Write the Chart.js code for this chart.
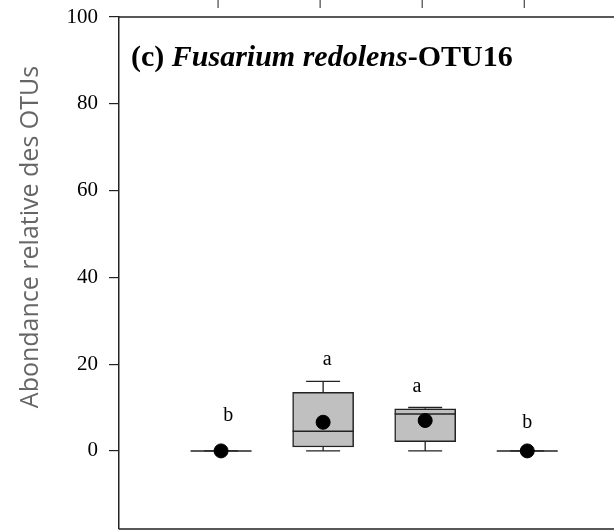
<!DOCTYPE html>
<html lang="fr">
  <head>
    <meta charset="UTF-8" />
    <script src="https://cdn.jsdelivr.net/npm/chart.js"></script>
    <title>Fusarium redolens-OTU16</title>
    <style>
      body { margin: 0; background: #fff; }
      #wrap { width: 614px; height: 530px; }
    </style>
  </head>
  <body>
    <div id="wrap"><canvas id="myChart"></canvas></div>
    <script>
      // data
      const xPos = [1, 2, 3, 4];
      const whiskerLow = [0, 0, 0, 0];
      const q1 = [0, 0.9, 2.1, 0];
      const median = [0, 4.5, 8.5, 0];
      const q3 = [0, 13.5, 9.7, 0];
      const whiskerHigh = [0, 16, 10, 0];
      const means = [0, 6.6, 7.0, 0];
      const letters = ["b", "a", "a", "b"];
      const letterX = [1.07, 2.04, 2.92, 4.0];
      const letterY = [8, 21, 14.8, 6.5];
      const yTicks = [0, 20, 40, 60, 80, 100];
      const yTitle = "Abondance relative des OTUs";

      const BOX_W = 61;
      const CAP_W = 34;
      const INK = "#222";

      // whiskers behind boxes, medians on top, letters + titles + frame
      const boxExtras = {
        id: "boxExtras",
        beforeDatasetsDraw(chart) {
          const { ctx, scales: { x, y } } = chart;
          ctx.save();
          ctx.strokeStyle = INK;
          ctx.lineWidth = 1.3;
          xPos.forEach((v, i) => {
            const px = x.getPixelForValue(v);
            ctx.beginPath();
            ctx.moveTo(px, y.getPixelForValue(q3[i]));
            ctx.lineTo(px, y.getPixelForValue(whiskerHigh[i]));
            ctx.moveTo(px, y.getPixelForValue(q1[i]));
            ctx.lineTo(px, y.getPixelForValue(whiskerLow[i]));
            ctx.moveTo(px - CAP_W / 2, y.getPixelForValue(whiskerHigh[i]));
            ctx.lineTo(px + CAP_W / 2, y.getPixelForValue(whiskerHigh[i]));
            ctx.moveTo(px - CAP_W / 2, y.getPixelForValue(whiskerLow[i]));
            ctx.lineTo(px + CAP_W / 2, y.getPixelForValue(whiskerLow[i]));
            ctx.stroke();
          });
          ctx.restore();
        },
        afterDatasetDraw(chart, args) {
          if (args.index !== 0) return;
          const { ctx, scales: { x, y } } = chart;
          ctx.save();
          ctx.strokeStyle = INK;
          ctx.lineWidth = 1.5;
          xPos.forEach((v, i) => {
            const px = x.getPixelForValue(v);
            const py = y.getPixelForValue(median[i]);
            ctx.beginPath();
            ctx.moveTo(px - BOX_W / 2, py);
            ctx.lineTo(px + BOX_W / 2, py);
            ctx.stroke();
          });
          ctx.restore();
        },
        afterDraw(chart) {
          const { ctx, chartArea: a, scales: { x, y } } = chart;
          ctx.save();
          // frame top / bottom
          ctx.strokeStyle = INK;
          ctx.lineWidth = 1.5;
          ctx.beginPath();
          ctx.moveTo(a.left, a.top);
          ctx.lineTo(a.right, a.top);
          ctx.moveTo(a.left, a.bottom);
          ctx.lineTo(a.right, a.bottom);
          ctx.stroke();
          // stray ticks of the panel above
          ctx.lineWidth = 1;
          xPos.forEach((v) => {
            const px = x.getPixelForValue(v) - 3;
            ctx.beginPath();
            ctx.moveTo(px, 0);
            ctx.lineTo(px, 8);
            ctx.stroke();
          });
          // significance letters
          ctx.fillStyle = "#000";
          ctx.font = "20px 'Liberation Serif'";
          ctx.textAlign = "center";
          ctx.textBaseline = "middle";
          letters.forEach((t, i) => {
            ctx.fillText(t, x.getPixelForValue(letterX[i]), y.getPixelForValue(letterY[i]));
          });
          // y axis title (sits higher than the plot centre in the original)
          ctx.save();
          ctx.translate(31, 237);
          ctx.rotate(-Math.PI / 2);
          ctx.fillStyle = "#666";
          ctx.font = "25px 'Open Sans'";
          ctx.fillText(yTitle, 0, 0);
          ctx.restore();
          // panel title
          ctx.textAlign = "left";
          ctx.textBaseline = "alphabetic";
          const parts = [
            ["(c) ", "bold 30px 'Liberation Serif'"],
            ["Fusarium redolens", "italic bold 30px 'Liberation Serif'"],
            ["-OTU16", "bold 30px 'Liberation Serif'"],
          ];
          let tx = a.left + 12;
          parts.forEach(([t, f]) => {
            ctx.font = f;
            ctx.fillText(t, tx, 66);
            tx += ctx.measureText(t).width;
          });
          ctx.restore();
        },
      };

      new Chart(document.getElementById("myChart"), {
        data: {
          datasets: [
            {
              type: "bar",
              data: xPos.map((v, i) => ({ x: v, y: [q1[i], q3[i]] })),
              backgroundColor: "#c0c0c0",
              borderColor: INK,
              borderWidth: 1.5,
              borderSkipped: false,
              barThickness: BOX_W,
              order: 2,
            },
            {
              type: "scatter",
              data: xPos.map((v, i) => ({ x: v, y: means[i] })),
              backgroundColor: "#000",
              borderColor: "#000",
              pointRadius: 7,
              order: 1,
            },
          ],
        },
        options: {
          responsive: true,
          maintainAspectRatio: false,
          animation: false,
          layout: { autoPadding: false, padding: { top: 17, bottom: 1, right: 0, left: 0 } },
          plugins: { legend: { display: false }, tooltip: { enabled: false } },
          scales: {
            x: {
              type: "linear",
              display: false,
              offset: false,
              min: 0,
              max: 4.85,
            },
            y: {
              min: -18,
              max: 100,
              afterFit: (s) => {
                s.width = 119;
                s.paddingTop = 0;
                s.paddingBottom = 0;
              },
              afterBuildTicks: (s) => { s.ticks = yTicks.map((v) => ({ value: v })); },
              grid: { drawOnChartArea: false, tickLength: 10, color: INK, lineWidth: 1.2 },
              border: { display: true, color: INK, width: 1.5 },
              ticks: {
                padding: 11,
                color: "#000",
                font: { family: "'Liberation Serif'", size: 21 },
              },
            },
          },
        },
        plugins: [boxExtras],
      });
    </script>
  </body>
</html>
